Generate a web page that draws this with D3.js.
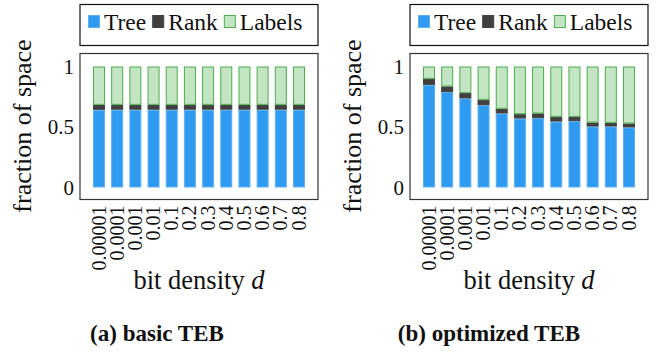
<!DOCTYPE html>
<html>
<head>
<meta charset="utf-8">
<script src="https://cdn.jsdelivr.net/npm/d3@7"></script>
<style>
  body { margin: 0; background: #fff; }
  svg text { font-family: "Liberation Serif", "DejaVu Serif", serif; fill: #111; }
</style>
</head>
<body>
<div id="chart"></div>
<script>
// bit densities on the x axis
const densities = ["0.00001", "0.0001", "0.001", "0.01", "0.1", "0.2", "0.3", "0.4", "0.5", "0.6", "0.7", "0.8"];

// (a) basic TEB
const basicTree   = [0.642, 0.643, 0.643, 0.643, 0.643, 0.643, 0.643, 0.643, 0.643, 0.643, 0.643, 0.643];
const basicRank   = [0.041, 0.040, 0.040, 0.040, 0.040, 0.040, 0.040, 0.040, 0.040, 0.040, 0.040, 0.040];
const basicLabels = [0.317, 0.317, 0.317, 0.317, 0.317, 0.317, 0.317, 0.317, 0.317, 0.317, 0.317, 0.317];

// (b) optimized TEB
const optTree   = [0.848, 0.788, 0.736, 0.680, 0.612, 0.570, 0.573, 0.545, 0.548, 0.504, 0.504, 0.496];
const optRank   = [0.050, 0.047, 0.044, 0.045, 0.038, 0.036, 0.039, 0.039, 0.036, 0.033, 0.030, 0.033];
const optLabels = [0.102, 0.165, 0.220, 0.275, 0.350, 0.394, 0.388, 0.416, 0.416, 0.463, 0.466, 0.471];

const yTicks = [0, 0.5, 1];
const legendItems = ["Tree", "Rank", "Labels"];
const keys = ["tree", "rank", "labels"];

const fills   = { tree: "#2e9af0", rank: "#404040", labels: "#c3e5c3" };
const strokes = { tree: "#5fb2f4", rank: "#404040", labels: "#4cae4c" };

const serif = "'Liberation Serif', 'DejaVu Serif', serif";

const svg = d3.select("#chart").append("svg")
    .attr("width", 660)
    .attr("height", 352)
    .style("font-family", serif);

// frame of each plot (relative to panel)
const frame = { left: 80, right: 318, top: 53.5, bottom: 199.5 };

function drawPanel(offsetX, tree, rank, labels, caption, captionX) {
    const g = svg.append("g").attr("transform", `translate(${offsetX},0)`);

    const rows = densities.map((d, i) => ({ d: d, tree: tree[i], rank: rank[i], labels: labels[i] }));
    const series = d3.stack().keys(keys)(rows);

    const x = d3.scaleBand()
        .domain(densities)
        .range([frame.left + 13, frame.right - 13])
        .paddingInner(0.34)
        .paddingOuter(0);

    const y = d3.scaleLinear().domain([0, 1]).range([187.5, 66.5]);

    // legend box
    const lg = g.append("g");
    lg.append("rect")
        .attr("x", frame.left).attr("y", 4.5)
        .attr("width", frame.right - frame.left).attr("height", 41)
        .attr("fill", "none").attr("stroke", "#111").attr("stroke-width", 1.2);

    let cx = 88;
    legendItems.forEach((name, i) => {
        lg.append("rect")
            .attr("x", cx + 0.5).attr("y", 15.5)
            .attr("width", 11).attr("height", 12)
            .attr("fill", fills[keys[i]])
            .attr("stroke", strokes[keys[i]]);
        const t = lg.append("text")
            .attr("x", cx + 16).attr("y", 30)
            .style("font-family", serif)
            .style("font-size", "23.5px")
            .text(name);
        cx = cx + 16 + t.node().getComputedTextLength() + 6;
    });

    // bars
    g.append("g").selectAll("g")
        .data(series)
        .join("g")
        .attr("fill", s => fills[s.key])
        .attr("stroke", s => strokes[s.key])
        .selectAll("rect")
        .data(s => s)
        .join("rect")
        .attr("x", d => x(d.data.d) + 0.5)
        .attr("width", x.bandwidth() - 1)
        .attr("y", d => y(d[1]) + 0.5)
        .attr("height", d => Math.max(0, y(d[0]) - y(d[1]) - 1));

    // plot frame
    g.append("rect")
        .attr("x", frame.left).attr("y", frame.top)
        .attr("width", frame.right - frame.left).attr("height", frame.bottom - frame.top)
        .attr("fill", "none").attr("stroke", "#333").attr("stroke-width", 1.2);

    // y axis
    const yAxis = g.append("g")
        .attr("transform", `translate(${frame.left},0)`)
        .call(d3.axisLeft(y).tickValues(yTicks).tickFormat(d3.format("")).tickSize(0).tickPadding(6));
    yAxis.select(".domain").remove();
    yAxis.selectAll("text")
        .style("font-size", "21px")
        .style("font-family", serif)
        .attr("fill", "#111");

    // x axis
    const xAxis = g.append("g")
        .attr("transform", `translate(0,${frame.bottom})`)
        .call(d3.axisBottom(x).tickSize(0));
    xAxis.select(".domain").remove();
    xAxis.selectAll("text")
        .style("font-size", "20px")
        .style("font-family", serif)
        .attr("fill", "#111")
        .attr("text-anchor", "end")
        .attr("dy", null)
        .attr("y", 0)
        .attr("transform", "translate(6.5,6) rotate(-90)");

    // axis titles
    g.append("text")
        .attr("transform", `translate(31,126) rotate(-90)`)
        .attr("text-anchor", "middle")
        .style("font-family", serif)
        .style("font-size", "26px")
        .text("fraction of space");

    const xt = g.append("text")
        .attr("x", (frame.left + frame.right) / 2)
        .attr("y", 289)
        .attr("text-anchor", "middle")
        .style("font-family", serif)
        .style("font-size", "26.5px");
    xt.append("tspan").text("bit density ");
    xt.append("tspan").style("font-style", "italic").text("d");

    // caption
    g.append("text")
        .attr("x", captionX)
        .attr("y", 341)
        .attr("text-anchor", "middle")
        .style("font-family", serif)
        .style("font-size", "23px")
        .style("font-weight", "bold")
        .text(caption);
}

drawPanel(0, basicTree, basicRank, basicLabels, "(a) basic TEB", 157);
drawPanel(330, optTree, optRank, optLabels, "(b) optimized TEB", 159);
</script>
</body>
</html>
